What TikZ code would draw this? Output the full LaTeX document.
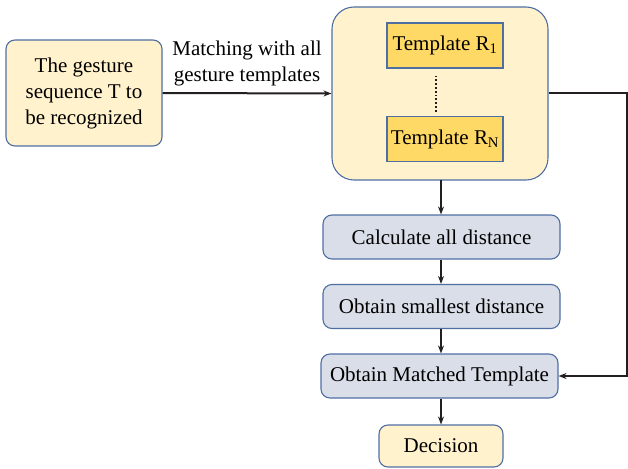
\documentclass[tikz,border=0pt]{standalone}
\usepackage{fontspec}
\setmainfont{Liberation Serif}
\usetikzlibrary{arrows.meta}
\definecolor{edgeblue}{HTML}{4F6FA3}
\definecolor{paleyellow}{HTML}{FFF2CC}
\definecolor{goldfill}{HTML}{FFD966}
\definecolor{greyblue}{HTML}{D9DEE8}
\definecolor{inkline}{HTML}{231F20}
\begin{document}
\begin{tikzpicture}[x=1pt,y=-1pt,
  font=\fontsize{21}{26}\selectfont,
  box/.style={draw=edgeblue,line width=1.1pt,rounded corners=9pt,inner sep=0pt,align=center},
  startbox/.style={box,fill=paleyellow,minimum width=156pt,minimum height=106pt},
  holdbox/.style={box,fill=paleyellow,rounded corners=22pt,minimum width=216pt,minimum height=173pt},
  tempbox/.style={draw=edgeblue,line width=1.1pt,fill=goldfill,inner sep=0pt,minimum width=116pt,minimum height=45pt},
  stepbox/.style={box,fill=greyblue,minimum width=237pt,minimum height=44pt},
  arr/.style={-{Stealth[length=8pt,width=6pt]},line width=2pt,draw=inkline}]
  \useasboundingbox (0,0) rectangle (628,468);
  %Input sequence and template set
  \node[startbox] (seq) at (84,93) {The gesture\\sequence T to\\be recognized};
  \node[holdbox] (tset) at (440,93.5) {};
  \node[tempbox] (tone) at (445,45.5) {Template R\textsubscript{1}};
  \node[tempbox] (tlast) at (445,139) {Template R\textsubscript{N}};
  \draw[line width=1.8pt,dotted,inkline] (tone.south) ++(-9,7) -- ++(0,36);
  \draw[arr] (seq.east) -- (tset.west)
    node[pos=0.5,above=3pt,align=center] {Matching with all\\gesture templates};
  %Processing steps
  \node[stepbox] (calc) at (441.5,237) {Calculate all distance};
  \node[stepbox] (small) at (441.5,306.5) {Obtain smallest distance};
  \node[stepbox] (match) at (439.5,376) {Obtain Matched Template};
  \node[box,fill=paleyellow,minimum width=124pt,minimum height=42pt] (dec) at (441,446) {Decision};
  \draw[arr] (441,180) -- (calc.north -| 441,0);
  \draw[arr] (calc.south -| 441,0) -- (small.north -| 441,0);
  \draw[arr] (small.south -| 441,0) -- (match.north -| 441,0);
  \draw[arr] (match.south -| 441,0) -- (dec.north -| 441,0);
  %Feedback on the right
  \coordinate (rtop) at (626.5,93.5);
  \coordinate (rbot) at (626.5,376);
  \draw[arr] (tset.east) -- (rtop) -- (rbot) -- (match.east);
\end{tikzpicture}
\end{document}
